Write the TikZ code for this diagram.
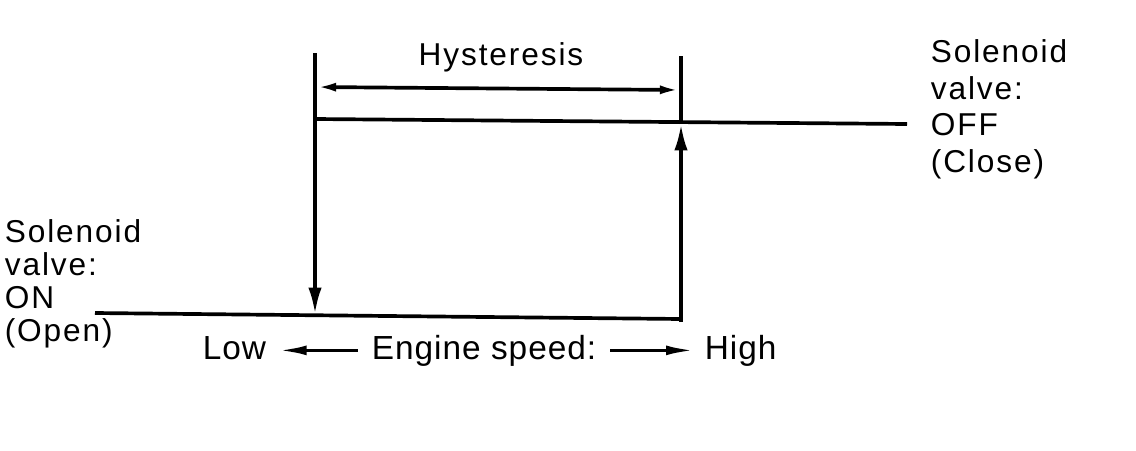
\documentclass[tikz,border=0pt]{standalone}
\usepackage{fontspec}
\setmainfont{Liberation Sans}
\newfontfamily\topfont{Liberation Sans}[LetterSpace=6]
\newfontfamily\botfont{Liberation Sans}[LetterSpace=3]
\usetikzlibrary{arrows.meta}
\begin{document}
\begin{tikzpicture}[x=0.02cm,y=-0.02cm,line width=2.1pt,
  toplbl/.style={inner sep=0pt,font=\topfont\fontsize{18}{19}\selectfont},
  botlbl/.style={inner sep=0pt,font=\botfont\fontsize{19}{21}\selectfont},
  bigtip/.style={-{Latex[length=15pt,width=7.6pt]}},
  dimtip/.style={{Latex[length=12pt,width=5pt]}-{Latex[length=12pt,width=5pt]}},
  speedtip/.style={-{Latex[length=17pt,width=5.5pt]}}]
\useasboundingbox (0,0) rectangle (1136,450);
% corner points
\coordinate (Ltop) at (315,53);
\coordinate (Lbot) at (315,314);
\coordinate (Rtop) at (681,56);
\coordinate (Rmid) at (681,124);
\coordinate (Rbot) at (681,322);
\coordinate (T1) at (315,119);
\coordinate (T2) at (907,124);
\coordinate (B1) at (95,313);
\coordinate (B2) at (681,319);
\coordinate (H1) at (315,87);
\coordinate (H2) at (681,90);
% lines
\draw (T1) -- (T2);
\draw (B1) -- (B2);
\draw[bigtip] (Ltop) -- (Lbot);
\draw[bigtip] (Rbot) -- (Rmid);
\draw (Rmid) -- (Rtop);
\draw[dimtip] (H1) -- (H2);
% texts
\node[toplbl,anchor=base] (hys) at (501,65) {Hysteresis};
\node[toplbl,anchor=north west,align=left,font=\topfont\fontsize{18}{18.7}\selectfont] (on) at (3,218) {Solenoid\\valve:\\ON\\(Open)};
\node[toplbl,anchor=north west,align=left,font=\topfont\fontsize{18}{20.8}\selectfont] (off) at (929,38) {Solenoid\\valve:\\OFF\\(Close)};
\node[botlbl,anchor=base west] (low) at (201,359) {Low};
\node[botlbl,anchor=base west] (eng) at (370,359) {Engine speed:};
\node[botlbl,anchor=base west] (high) at (703,359) {High};
\draw[speedtip,shorten <=7pt,shorten >=5pt] (eng.west) -- (low.east |- eng.west);
\draw[speedtip,shorten <=7pt,shorten >=4pt] (eng.east) -- (high.west |- eng.east);
\end{tikzpicture}
\end{document}
